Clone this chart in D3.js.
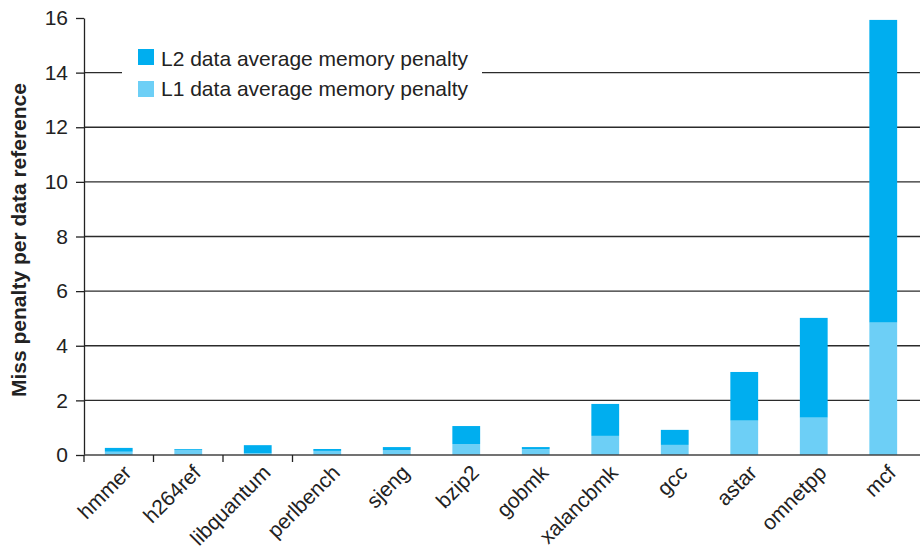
<!DOCTYPE html>
<html>
<head>
<meta charset="utf-8">
<script src="https://cdn.jsdelivr.net/npm/d3@7/dist/d3.min.js"></script>
<style>
  html, body { margin: 0; padding: 0; background: #fff; }
  svg { display: block; font-family: "Liberation Sans", Arial, sans-serif; }
</style>
</head>
<body>
<svg id="chart" width="920" height="548"></svg>
<script>
// Benchmarks, ordered by total penalty
const benchmarks = ["hmmer", "h264ref", "libquantum", "perlbench", "sjeng", "bzip2",
                    "gobmk", "xalancbmk", "gcc", "astar", "omnetpp", "mcf"];
// L1 data average memory penalty (bottom segment)
const l1Penalty = [0.12, 0.19, 0.07, 0.15, 0.18, 0.40, 0.22, 0.70, 0.37, 1.26, 1.37, 4.85];
// L2 data average memory penalty (stacked on top)
const l2Penalty = [0.14, 0.03, 0.29, 0.07, 0.11, 0.66, 0.07, 1.17, 0.55, 1.78, 3.65, 11.08];
const yTicks = [0, 2, 4, 6, 8, 10, 12, 14, 16];
const seriesNames = ["L2 data average memory penalty", "L1 data average memory penalty"];
const yTitle = "Miss penalty per data reference";

const colorL2 = "#00aeef";
const colorL1 = "#6dcff6";

const svg = d3.select("#chart");
const mLeft = 84, mRight = 920, mTop = 18, mBottom = 455;
const plotRight = 918;

const x = d3.scaleBand().domain(benchmarks).range([mLeft, plotRight]).paddingInner(0.6).paddingOuter(0.3);
const band = d3.scaleBand().domain(benchmarks).range([mLeft, plotRight]);
const y = d3.scaleLinear().domain([0, 16]).range([mBottom, mTop]);

// horizontal gridlines
svg.append("g").selectAll("line")
  .data(yTicks.filter(t => t > 0 && t < 16))
  .join("line")
  .attr("x1", mLeft).attr("x2", mRight)
  .attr("y1", d => y(d)).attr("y2", d => y(d))
  .attr("stroke", "#2b2b2b").attr("stroke-width", 1.3);

// stacked bars
const rows = benchmarks.map((b, i) => ({ b, l1: l1Penalty[i], l2: l2Penalty[i] }));
const stack = d3.stack().keys(["l1", "l2"])(rows);
const colors = { l1: colorL1, l2: colorL2 };
svg.append("g").selectAll("g")
  .data(stack).join("g")
  .attr("fill", d => colors[d.key])
  .selectAll("rect")
  .data(d => d).join("rect")
  .attr("x", d => x(d.data.b))
  .attr("width", x.bandwidth())
  .attr("y", d => y(d[1]))
  .attr("height", d => y(d[0]) - y(d[1]));

// y axis
const yAxis = d3.axisLeft(y).tickValues(yTicks).tickSize(8).tickPadding(8).tickSizeOuter(0);
const gy = svg.append("g").attr("transform", `translate(${mLeft},0)`).call(yAxis);
gy.select(".domain").attr("stroke", "#222").attr("stroke-width", 1.3);
gy.selectAll(".tick line").attr("stroke", "#222").attr("stroke-width", 1.3);
gy.selectAll(".tick text").attr("font-size", 21).attr("fill", "#222")
  .attr("font-family", "Liberation Sans, Arial, sans-serif");

// baseline with category separators
const gx = svg.append("g");
gx.append("line").attr("x1", mLeft).attr("x2", mRight)
  .attr("y1", mBottom).attr("y2", mBottom)
  .attr("stroke", "#444").attr("stroke-width", 1.6);
gx.append("line").attr("x1", mLeft).attr("x2", mLeft)
  .attr("y1", mBottom).attr("y2", mBottom + 7)
  .attr("stroke", "#222").attr("stroke-width", 1.3);
gx.selectAll("line.sep")
  .data(benchmarks.slice(1, 4))
  .join("line").attr("class", "sep")
  .attr("x1", d => band(d)).attr("x2", d => band(d))
  .attr("y1", mBottom).attr("y2", mBottom + 7)
  .attr("stroke", "#222").attr("stroke-width", 1.3);

// rotated category labels
gx.selectAll("text")
  .data(benchmarks)
  .join("text")
  .attr("transform", d => `translate(${band(d) + band.bandwidth() / 2 + 14},${mBottom + 19}) rotate(-45)`)
  .attr("text-anchor", "end")
  .attr("font-size", 21)
  .attr("fill", "#222")
  .text(d => d);

// y axis title
svg.append("text")
  .attr("transform", `translate(26,240) rotate(-90)`)
  .attr("text-anchor", "middle")
  .attr("font-size", 21).attr("font-weight", "bold").attr("fill", "#222")
  .text(yTitle);

// legend
const lg = svg.append("g");
lg.append("rect").attr("x", 122).attr("y", 36).attr("width", 360).attr("height", 68).attr("fill", "#fff");
const legendItems = [
  { name: seriesNames[0], color: colorL2, top: 49, base: 66 },
  { name: seriesNames[1], color: colorL1, top: 81, base: 96 }
];
legendItems.forEach(it => {
  lg.append("rect").attr("x", 138).attr("y", it.top).attr("width", 16).attr("height", 16).attr("fill", it.color);
  lg.append("text").attr("x", 161).attr("y", it.base)
    .attr("font-size", 21).attr("fill", "#222").text(it.name);
});
</script>
</body>
</html>
